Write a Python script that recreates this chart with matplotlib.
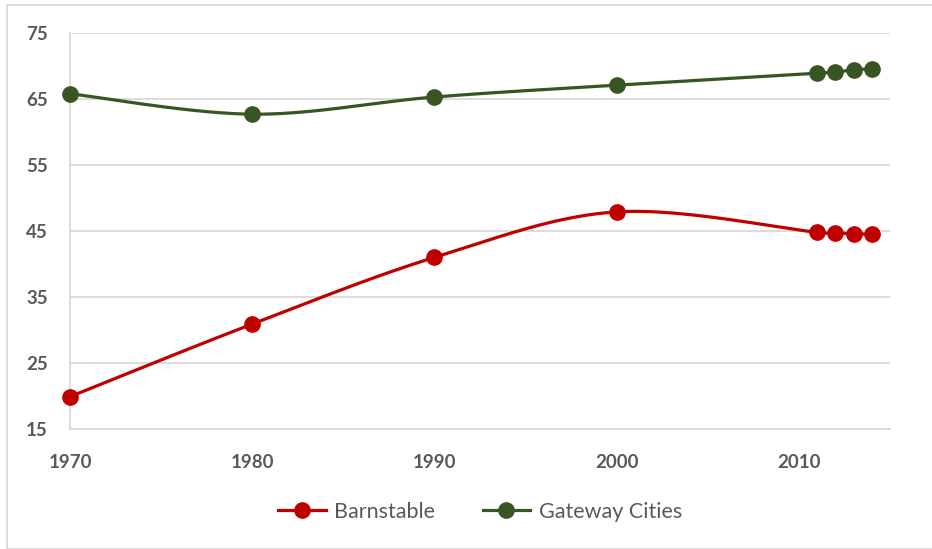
import numpy as np
import matplotlib.pyplot as plt
from matplotlib.patches import Rectangle

years = [1970, 1980, 1990, 2000, 2011, 2012, 2013, 2014]
barnstable = [19.9, 30.9, 41.0, 47.9, 44.8, 44.7, 44.6, 44.5]
gateway = [65.8, 62.7, 65.3, 67.1, 68.9, 69.1, 69.4, 69.6]
xticks = [1970, 1980, 1990, 2000, 2010]
yticks = [15, 25, 35, 45, 55, 65, 75]


# Excel-style smoothed line (Bezier through points)
def smooth(x, y, n=40):
    x = np.asarray(x, float)
    y = np.asarray(y, float)
    px = np.concatenate([[x[0]], x, [x[-1]]])
    py = np.concatenate([[y[0]], y, [y[-1]]])
    xs, ys = [], []
    t = np.linspace(0, 1, n)
    for i in range(1, len(px) - 2):
        p0 = np.array([px[i], py[i]])
        p3 = np.array([px[i + 1], py[i + 1]])
        p1 = p0 + (np.array([px[i + 1], py[i + 1]]) - np.array([px[i - 1], py[i - 1]])) / 6
        p2 = p3 - (np.array([px[i + 2], py[i + 2]]) - np.array([px[i], py[i]])) / 6
        b = ((1 - t) ** 3)[:, None] * p0 + (3 * (1 - t) ** 2 * t)[:, None] * p1 \
            + (3 * (1 - t) * t ** 2)[:, None] * p2 + (t ** 3)[:, None] * p3
        xs.extend(b[:, 0])
        ys.extend(b[:, 1])
    return xs, ys


fig = plt.figure(figsize=(9.32, 5.49), dpi=100)
ax = fig.add_axes([70 / 932, 1 - 429 / 549, 820 / 932, 396 / 549])

red = '#C00000'
green = '#375623'

for vals, col, lab in [(barnstable, red, 'Barnstable'), (gateway, green, 'Gateway Cities')]:
    sx, sy = smooth(years, vals)
    ax.plot(sx, sy, color=col, lw=2.3, zorder=3, solid_capstyle='round', clip_on=False)
    ax.plot(years, vals, 'o', color=col, ms=11, zorder=4, clip_on=False)
    ax.plot([], [], '-o', color=col, lw=2.3, ms=11, label=lab)

ax.set_xlim(1970, 2015)
ax.set_ylim(15, 75)
ax.set_xticks(xticks)
ax.set_yticks(yticks)
ax.grid(axis='y', color='#D9D9D9', lw=1.3)
ax.set_axisbelow(True)
for s in ['top', 'right']:
    ax.spines[s].set_visible(False)
for s in ['left', 'bottom']:
    ax.spines[s].set_color('#D9D9D9')
    ax.spines[s].set_linewidth(1.3)
ax.tick_params(length=0, colors='#595959', labelsize=13.5)
ax.tick_params(axis='y', pad=16)
ax.tick_params(axis='x', pad=18)
for lbl in ax.get_xticklabels() + ax.get_yticklabels():
    lbl.set_fontweight('bold')
    lbl.set_fontfamily('Lato')

fig.legend(loc='center', bbox_to_anchor=(480 / 932, 1 - 512 / 549), ncol=2,
           frameon=False, prop={'family': 'Lato', 'size': 15.5}, labelcolor='#595959',
           handlelength=2.2, columnspacing=2.2, handletextpad=0.4)

fig.patches.append(Rectangle((7 / 932, 0), 1, 1 - 5 / 549, transform=fig.transFigure,
                             fill=False, edgecolor='#D9D9D9', lw=1.3))

fig.savefig('out.png', dpi=100)
